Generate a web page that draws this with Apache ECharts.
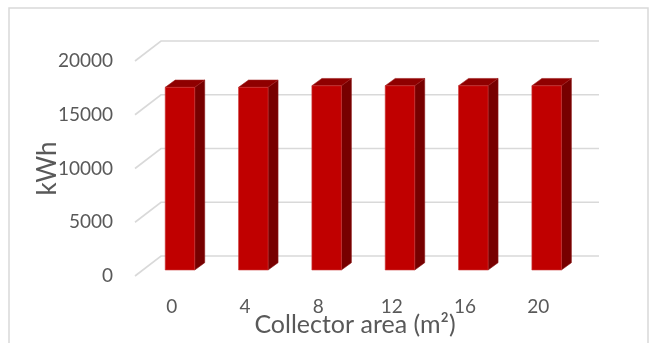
<!DOCTYPE html>
<html>
<head>
<meta charset="utf-8">
<script src="https://cdn.jsdelivr.net/npm/echarts@6/dist/echarts.min.js"></script>
<style>
  html, body { margin: 0; padding: 0; background: #ffffff; }
  #chart { width: 652px; height: 343px; }
</style>
</head>
<body>
<div id="chart"></div>
<script>
// Annual energy (kWh) for each collector area (m²)
const categories = ['0', '4', '8', '12', '16', '20'];
const energyKWh = [16990, 16990, 17140, 17140, 17140, 17140];
const yTicks = [0, 5000, 10000, 15000, 20000];

const FONT = 'Lato, "Open Sans", sans-serif';
const TEXT_COLOR = '#595959';
const GRID_COLOR = '#d9d9d9';

// Perspective offsets of the pseudo-3D plot (pixels)
const WALL_DX = 26, WALL_DY = -20;     // front plane -> back wall
const BAR_DX = 8.3, BAR_DY = -6;       // front plane -> bar front face
const BAR_DEPTH_DX = 10, BAR_DEPTH_DY = -7.3;
const BAR_WIDTH = 29.5;

const chart = echarts.init(document.getElementById('chart'), null, { renderer: 'canvas' });

function renderGridLine(params, api) {
  const cs = params.coordSys;
  const y = api.coord([0, api.value(1)])[1];
  const x0 = cs.x;
  const x1 = cs.x + cs.width + WALL_DX - 2;
  return {
    type: 'polyline',
    shape: { points: [[x0, y], [x0 + WALL_DX, y + WALL_DY], [x1, y + WALL_DY]] },
    style: { stroke: GRID_COLOR, lineWidth: 1.6, fill: null },
    silent: true
  };
}

function renderBar(params, api) {
  const idx = api.value(0);
  const top = api.coord([idx, api.value(1)]);
  const base = api.coord([idx, 0]);
  const cx = top[0] + BAR_DX;
  const yTop = top[1] + BAR_DY;
  const yBot = base[1] + BAR_DY;
  const xl = cx - BAR_WIDTH / 2, xr = cx + BAR_WIDTH / 2;
  const dx = BAR_DEPTH_DX, dy = BAR_DEPTH_DY;
  return {
    type: 'group',
    children: [
      {
        type: 'polygon',
        shape: { points: [[xr, yTop], [xr + dx, yTop + dy], [xr + dx, yBot + dy], [xr, yBot]] },
        style: { fill: '#770000', stroke: '#8a1a1a', lineWidth: 0.6 }
      },
      {
        type: 'polygon',
        shape: { points: [[xl, yTop], [xl + dx, yTop + dy], [xr + dx, yTop + dy], [xr, yTop]] },
        style: { fill: '#8f0000', stroke: '#a02020', lineWidth: 0.6 }
      },
      {
        type: 'rect',
        shape: { x: xl, y: yTop, width: BAR_WIDTH, height: yBot - yTop },
        style: { fill: '#c00000', stroke: '#cc3a3a', lineWidth: 0.6 }
      }
    ]
  };
}

const option = {
  animation: false,
  backgroundColor: '#ffffff',
  grid: { left: 135, right: 77, top: 61, bottom: 67, containLabel: false },
  xAxis: {
    type: 'category',
    data: categories,
    boundaryGap: true,
    axisLine: { show: false },
    axisTick: { show: false },
    splitLine: { show: false },
    axisLabel: { color: TEXT_COLOR, fontFamily: FONT, fontSize: 19, margin: 21 },
    name: 'Collector area (m²)',
    nameLocation: 'middle',
    nameGap: 36,
    nameMoveOverlap: false,
    nameTextStyle: { color: TEXT_COLOR, fontFamily: FONT, fontSize: 25 }
  },
  yAxis: {
    type: 'value',
    min: 0,
    max: 20000,
    interval: 5000,
    axisLine: { show: false },
    axisTick: { show: false },
    splitLine: { show: false },
    axisLabel: {
      color: TEXT_COLOR, fontFamily: FONT, fontSize: 19, margin: 22,
      formatter: v => String(v)
    },
    name: 'kWh',
    nameLocation: 'middle',
    nameGap: 74,
    nameRotate: 90,
    nameMoveOverlap: false,
    nameTextStyle: { color: TEXT_COLOR, fontFamily: FONT, fontSize: 26 }
  },
  graphic: [
    {
      type: 'rect',
      shape: { x: 9, y: 8, width: 639, height: 420 },
      style: { fill: null, stroke: GRID_COLOR, lineWidth: 1.5 },
      silent: true,
      z: -10
    }
  ],
  series: [
    {
      type: 'custom',
      name: 'grid',
      renderItem: renderGridLine,
      data: yTicks.map(v => [0, v]),
      encode: { x: 0, y: 1 },
      z: 1,
      silent: true
    },
    {
      type: 'custom',
      name: 'Energy',
      renderItem: renderBar,
      data: energyKWh.map((v, i) => [i, v]),
      encode: { x: 0, y: 1 },
      z: 2
    }
  ]
};

chart.setOption(option);
</script>
</body>
</html>
